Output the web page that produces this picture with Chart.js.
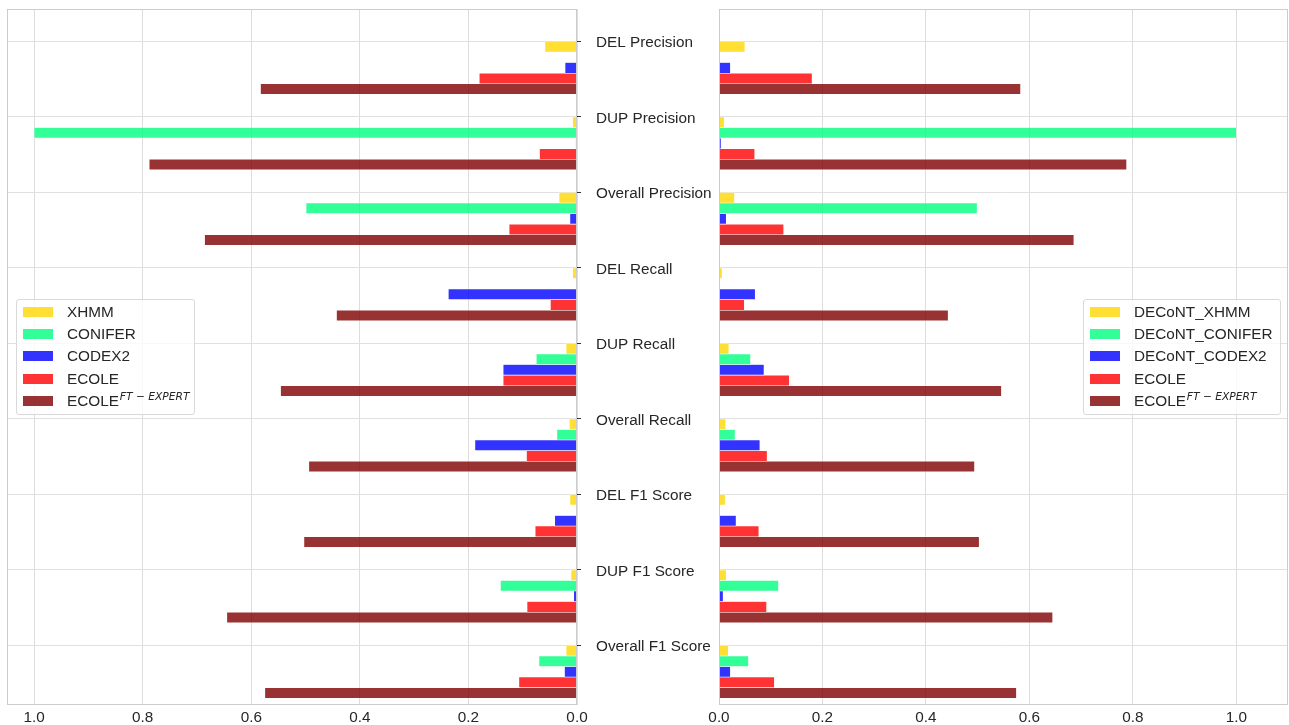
<!DOCTYPE html>
<html>
<head>
<meta charset="utf-8">
<script src="https://cdn.jsdelivr.net/npm/chart.js@4.4.1/dist/chart.umd.min.js"></script>
<style>
html,body{margin:0;padding:0;background:#fff;}
body{width:1289px;height:725px;position:relative;overflow:hidden;font-family:"Liberation Sans",Arial,sans-serif;}
canvas{position:absolute;top:0;}
#cL{left:0;}
#cR{left:700px;}
.legend{position:absolute;background:rgba(255,255,255,0.8);border:1px solid #d9d9d9;border-radius:3px;box-sizing:border-box;padding:0 6px;font-size:15.3px;color:#262626;white-space:nowrap;}
.legend .row{height:22.2px;display:flex;align-items:center;}
.legend .sw{width:30px;height:10px;margin-right:14px;flex:none;}
.legend sup{font-family:"DejaVu Sans",sans-serif;font-style:italic;font-size:10.7px;vertical-align:6px;line-height:0;margin-left:1px;}
#legL{left:16px;top:299px;width:179px;height:116px;padding-top:1px;}
#legR{left:1083px;top:299px;width:198px;height:116px;padding-top:1px;}
</style>
</head>
<body>
<canvas id="cL" width="720" height="725"></canvas>
<canvas id="cR" width="589" height="725"></canvas>
<div id="legL" class="legend"></div>
<div id="legR" class="legend"></div>
<script>
// ---- data ----
const categories = ['DEL Precision','DUP Precision','Overall Precision','DEL Recall','DUP Recall','Overall Recall','DEL F1 Score','DUP F1 Score','Overall F1 Score'];
const xTickValues = [0, 0.2, 0.4, 0.6, 0.8, 1.0];

const seriesLeft = ['XHMM','CONIFER','CODEX2','ECOLE','ECOLE^{FT − EXPERT}'];
const xhmm     = [0.059, 0.008, 0.033, 0.008, 0.020, 0.014, 0.013, 0.011, 0.020];
const conifer  = [0,     1.000, 0.499, 0,     0.075, 0.037, 0,     0.141, 0.070];
const codex2   = [0.022, 0.002, 0.013, 0.237, 0.136, 0.188, 0.041, 0.006, 0.023];

const seriesRight = ['DECoNT_XHMM','DECoNT_CONIFER','DECoNT_CODEX2','ECOLE','ECOLE^{FT − EXPERT}'];
const decontXhmm    = [0.050, 0.010, 0.030, 0.006, 0.019, 0.013, 0.012, 0.014, 0.018];
const decontConifer = [0,     1.000, 0.499, 0,     0.061, 0.031, 0,     0.115, 0.057];
const decontCodex2  = [0.022, 0.004, 0.014, 0.070, 0.087, 0.079, 0.033, 0.008, 0.022];

const ecole    = [0.180, 0.069, 0.125, 0.049, 0.136, 0.093, 0.077, 0.092, 0.107];
const ecoleFT  = [0.583, 0.788, 0.686, 0.443, 0.546, 0.494, 0.503, 0.645, 0.575];

// ---- style ----
const colors = ['rgba(255,215,0,0.8)','rgba(0,255,127,0.8)','rgba(0,0,255,0.8)','rgba(255,0,0,0.8)','rgba(128,0,0,0.8)'];
const FONT = {family:'"Liberation Sans", Arial, sans-serif', size:15.3};
const TEXT = '#262626';
const SLOT = 0.14; // bar height in category units

function buildDatasets(names, arrays){
  return arrays.map((arr, k) => ({
    label: names[k],
    data: arr.map((v, i) => ({x: v, y: i + SLOT/2 + SLOT*k})),
    backgroundColor: colors[k],
    borderColor: 'rgba(255,255,255,0.45)',
    borderWidth: 0.6,
    borderSkipped: 'start',
    grouped: false,
    barPercentage: 1,
    categoryPercentage: 1
  }));
}

const frame = {
  id: 'frame',
  afterDatasetsDraw(chart){
    const a = chart.chartArea, c = chart.ctx;
    c.save();
    c.strokeStyle = '#cccccc';
    c.lineWidth = 1;
    c.strokeRect(Math.round(a.left)+0.5, Math.round(a.top)+0.5, Math.round(a.right-a.left)-1, Math.round(a.bottom-a.top)-1);
    c.restore();
  }
};

function makeOptions(side){
  const left = side === 'L';
  return {
    indexAxis: 'y',
    responsive: false,
    animation: false,
    devicePixelRatio: 1,
    layout: {padding: left ? {left:7, top:9, right:0, bottom:0} : {left:19, top:9, right:1, bottom:0}},
    plugins: {legend: {display:false}, tooltip: {enabled:false}},
    scales: {
      x: {
        type: 'linear', min: 0, max: left ? 1.05 : 1.1, reverse: left, offset: false,
        grid: {color:'#dddddd', drawTicks:false, offset:false},
        border: {display:false},
        ticks: {font: FONT, color: TEXT, padding: 4, callback: v => Number(v).toFixed(1)},
        afterBuildTicks: s => { s.ticks = xTickValues.map(v => ({value: v})); },
        afterFit: s => { s.height = 20; s.paddingLeft = 0; s.paddingRight = 0; }
      },
      y: {
        type: 'linear', min: -0.43, max: 8.79, reverse: true, offset: false,
        position: left ? 'right' : 'left',
        grid: {color:'#e0e0e0', offset:false, drawTicks: left, tickLength: 4, tickColor: '#333333'},
        border: {display:false},
        ticks: {display: left, font: FONT, color: TEXT, padding: 15, labelOffset: 1.5, crossAlign: 'near', callback: v => categories[v] ?? ''},
        afterBuildTicks: s => { s.ticks = categories.map((_, i) => ({value: i})); },
        afterFit: s => { s.width = left ? 143 : 0; s.paddingTop = 0; s.paddingBottom = 0; }
      }
    }
  };
}

const chartL = new Chart(document.getElementById('cL'), {
  type: 'bar',
  data: {datasets: buildDatasets(seriesLeft, [xhmm, conifer, codex2, ecole, ecoleFT])},
  options: makeOptions('L'),
  plugins: [frame]
});
const chartR = new Chart(document.getElementById('cR'), {
  type: 'bar',
  data: {datasets: buildDatasets(seriesRight, [decontXhmm, decontConifer, decontCodex2, ecole, ecoleFT])},
  options: makeOptions('R'),
  plugins: [frame]
});

function renderLabel(t){
  const m = t.match(/^(.*)\^\{(.*)\}$/);
  return m ? m[1] + '<sup>' + m[2] + '</sup>' : t;
}
function buildLegend(chart, el){
  el.innerHTML = chart.data.datasets.map(d =>
    '<div class="row"><span class="sw" style="background:' + d.backgroundColor + '"></span><span>' + renderLabel(d.label) + '</span></div>'
  ).join('');
}
buildLegend(chartL, document.getElementById('legL'));
buildLegend(chartR, document.getElementById('legR'));
</script>
</body>
</html>
